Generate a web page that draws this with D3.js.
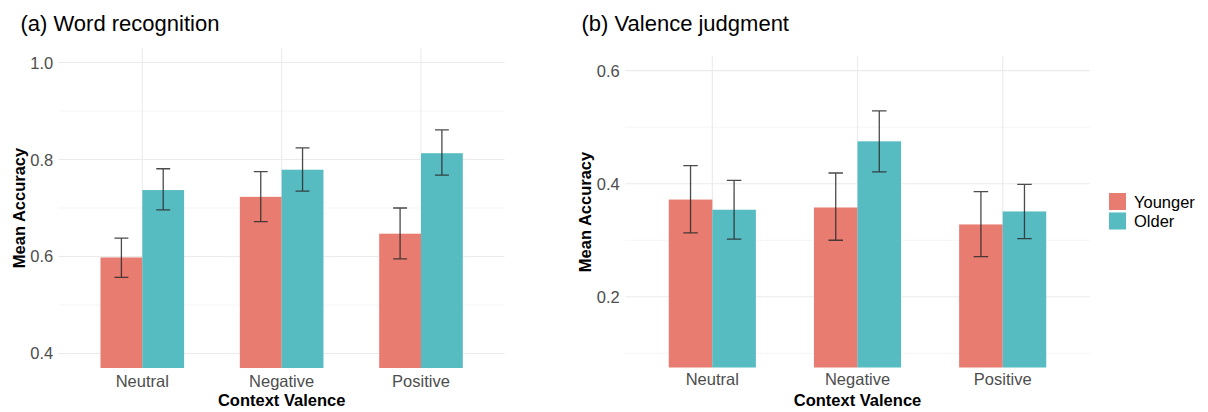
<!DOCTYPE html>
<html>
<head>
<meta charset="utf-8">
<script src="https://cdn.jsdelivr.net/npm/d3@7"></script>
<style>
  html, body { margin: 0; padding: 0; background: #fff; }
  svg { display: block; font-family: "Liberation Sans", Arial, Helvetica, sans-serif; }
</style>
</head>
<body>
<svg id="chart" width="1208" height="412"></svg>
<script>
// Context valence conditions and age groups
const categories = ["Neutral", "Negative", "Positive"];
const groups = ["Younger", "Older"];
const groupColors = ["#E87C71", "#56BCC2"];

// (a) Word recognition: mean accuracy with error-bar bounds
const recogYounger = [0.598, 0.723, 0.647];
const recogYoungerLow = [0.557, 0.672, 0.595];
const recogYoungerHigh = [0.638, 0.775, 0.700];
const recogOlder = [0.737, 0.779, 0.813];
const recogOlderLow = [0.696, 0.735, 0.768];
const recogOlderHigh = [0.781, 0.824, 0.861];
const recogTicks = [0.4, 0.6, 0.8, 1.0];
const recogMinorTicks = [0.5, 0.7, 0.9];

// (b) Valence judgment: mean accuracy with error-bar bounds
const valYounger = [0.372, 0.358, 0.328];
const valYoungerLow = [0.313, 0.300, 0.271];
const valYoungerHigh = [0.432, 0.419, 0.386];
const valOlder = [0.354, 0.475, 0.351];
const valOlderLow = [0.302, 0.421, 0.303];
const valOlderHigh = [0.406, 0.529, 0.399];
const valTicks = [0.2, 0.4, 0.6];
const valMinorTicks = [0.1, 0.3, 0.5];

const svg = d3.select("#chart");
const tickColor = "#4d4d4d";

function drawPanel(opts) {
  const { left, right, top, bottom, domain, ticks, minor, title, titleX,
          series, yTitleX, xLabelY, xTitleY } = opts;

  const x = d3.scalePoint().domain(categories).range([left, right]).padding(0.6);
  const step = x.step();
  const y = d3.scaleLinear().domain(domain).range([bottom, top]);

  const g = svg.append("g");

  // grid: minor, major, and vertical category lines
  g.selectAll(".minor").data(minor).join("line")
    .attr("x1", left).attr("x2", right)
    .attr("y1", d => y(d)).attr("y2", d => y(d))
    .attr("stroke", "#f2f2f2").attr("stroke-width", 0.8);
  g.selectAll(".major").data(ticks).join("line")
    .attr("x1", left).attr("x2", right)
    .attr("y1", d => y(d)).attr("y2", d => y(d))
    .attr("stroke", "#ebebeb").attr("stroke-width", 1.1);
  g.selectAll(".vgrid").data(categories).join("line")
    .attr("x1", d => x(d)).attr("x2", d => x(d))
    .attr("y1", top).attr("y2", bottom)
    .attr("stroke", "#ebebeb").attr("stroke-width", 1.1);

  // dodged bars, clipped to the panel floor
  const barW = step * 0.3;
  const yFloor = y(domain[0]);
  series.forEach((s, gi) => {
    const offset = gi === 0 ? -barW : 0;
    g.selectAll(null).data(categories).join("rect")
      .attr("x", d => x(d) + offset)
      .attr("width", barW)
      .attr("y", (d, i) => y(s.mean[i]))
      .attr("height", (d, i) => yFloor - y(s.mean[i]))
      .attr("fill", groupColors[gi]);
  });

  // error bars
  const capW = step * 0.1;
  series.forEach((s, gi) => {
    const cx = d => x(d) + (gi === 0 ? -barW / 2 : barW / 2);
    const eb = g.append("g").attr("stroke", "#2b2b2b").attr("stroke-opacity", 0.85)
      .attr("stroke-width", 1.3).attr("fill", "none");
    categories.forEach((c, i) => {
      const xc = cx(c);
      const y0 = y(s.low[i]), y1 = y(s.high[i]);
      eb.append("path")
        .attr("d", `M${xc - capW / 2},${y1}H${xc + capW / 2}M${xc},${y1}V${y0}M${xc - capW / 2},${y0}H${xc + capW / 2}`);
    });
  });

  // y tick labels
  g.selectAll(".ytick").data(ticks).join("text")
    .attr("x", left - 5.5).attr("y", d => y(d) + 6)
    .attr("text-anchor", "end")
    .attr("font-size", 16.5).attr("fill", tickColor)
    .text(d => d3.format(".1f")(d));

  // x tick labels
  g.selectAll(".xtick").data(categories).join("text")
    .attr("x", d => x(d)).attr("y", xLabelY)
    .attr("text-anchor", "middle")
    .attr("font-size", 16.5).attr("fill", tickColor)
    .text(d => d);

  // axis titles
  g.append("text")
    .attr("x", (left + right) / 2).attr("y", xTitleY)
    .attr("text-anchor", "middle").attr("font-size", 16.5).attr("font-weight", "bold")
    .attr("fill", "#000").text("Context Valence");
  g.append("text")
    .attr("transform", `translate(${yTitleX},${(top + bottom) / 2}) rotate(-90)`)
    .attr("text-anchor", "middle").attr("font-size", 16.5).attr("font-weight", "bold")
    .attr("fill", "#000").text("Mean Accuracy");

  // panel title
  g.append("text")
    .attr("x", titleX).attr("y", 31)
    .attr("font-size", 22).attr("fill", "#000").text(title);
}

drawPanel({
  left: 58.7, right: 504.6, top: 48, bottom: 368,
  domain: [0.37, 1.03], ticks: recogTicks, minor: recogMinorTicks,
  title: "(a) Word recognition", titleX: 20.5,
  series: [
    { mean: recogYounger, low: recogYoungerLow, high: recogYoungerHigh },
    { mean: recogOlder, low: recogOlderLow, high: recogOlderHigh }
  ],
  yTitleX: 24.5, xLabelY: 386.5, xTitleY: 406
});

drawPanel({
  left: 625.2, right: 1089.8, top: 56.5, bottom: 367.5,
  domain: [0.075, 0.625], ticks: valTicks, minor: valMinorTicks,
  title: "(b) Valence judgment", titleX: 581.5,
  series: [
    { mean: valYounger, low: valYoungerLow, high: valYoungerHigh },
    { mean: valOlder, low: valOlderLow, high: valOlderHigh }
  ],
  yTitleX: 591, xLabelY: 385, xTitleY: 405.5
});

// legend
const legend = svg.append("g").attr("transform", "translate(1109,193)");
groups.forEach((name, i) => {
  legend.append("rect")
    .attr("x", 0).attr("y", i * 19.5).attr("width", 17).attr("height", 17)
    .attr("fill", groupColors[i]);
  legend.append("text")
    .attr("x", 25).attr("y", i * 19.5 + 14.5)
    .attr("font-size", 16.5).attr("fill", "#000").text(name);
});
</script>
</body>
</html>
